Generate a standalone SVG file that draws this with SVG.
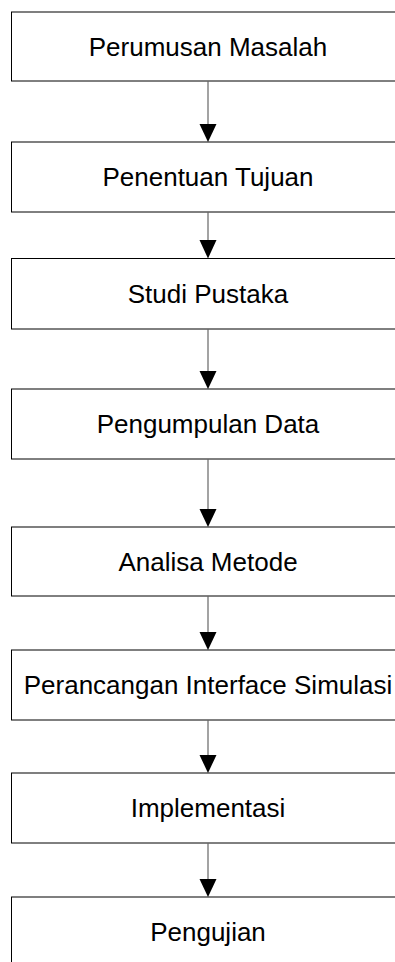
<svg xmlns="http://www.w3.org/2000/svg" width="395" height="962" viewBox="0 0 395 962">
<style>
.box{fill:#fff;stroke:#000;stroke-width:1}
.lbl{font-family:"Liberation Sans",Arial,sans-serif;font-size:26px;fill:#000;text-anchor:middle}
.conn{stroke:#666;stroke-width:1.2;fill:none}
.head{fill:#000}
</style>
<rect width="395" height="962" fill="#fff"/>
<g id="n1"><rect class="box" x="11.5" y="12" width="400" height="69"/><text class="lbl" x="208" y="55.5">Perumusan Masalah</text></g>
<g id="n2"><rect class="box" x="11.5" y="142" width="400" height="70"/><text class="lbl" x="208" y="186">Penentuan Tujuan</text></g>
<g id="n3"><rect class="box" x="11.5" y="258.5" width="400" height="70.5"/><text class="lbl" x="208" y="303">Studi Pustaka</text></g>
<g id="n4"><rect class="box" x="11.5" y="389" width="400" height="70"/><text class="lbl" x="208" y="433">Pengumpulan Data</text></g>
<g id="n5"><rect class="box" x="11.5" y="527" width="400" height="69"/><text class="lbl" x="208" y="570.5">Analisa Metode</text></g>
<g id="n6"><rect class="box" x="11.5" y="650" width="400" height="70"/><text class="lbl" x="208" y="694">Perancangan Interface Simulasi</text></g>
<g id="n7"><rect class="box" x="11.5" y="773" width="400" height="70"/><text class="lbl" x="208" y="817">Implementasi</text></g>
<g id="n8"><rect class="box" x="11.5" y="897" width="400" height="80"/><text class="lbl" x="208" y="941">Pengujian</text></g>
<g id="connectors">
<line class="conn" x1="208" y1="81" x2="208" y2="124"/><polygon class="head" points="199.5,124 216.5,124 208,142"/>
<line class="conn" x1="208" y1="212" x2="208" y2="240"/><polygon class="head" points="199.5,240 216.5,240 208,258.5"/>
<line class="conn" x1="208" y1="329" x2="208" y2="371"/><polygon class="head" points="199.5,371 216.5,371 208,389"/>
<line class="conn" x1="208" y1="459" x2="208" y2="509"/><polygon class="head" points="199.5,509 216.5,509 208,527"/>
<line class="conn" x1="208" y1="596" x2="208" y2="632"/><polygon class="head" points="199.5,632 216.5,632 208,650"/>
<line class="conn" x1="208" y1="720" x2="208" y2="755"/><polygon class="head" points="199.5,755 216.5,755 208,773"/>
<line class="conn" x1="208" y1="843" x2="208" y2="879"/><polygon class="head" points="199.5,879 216.5,879 208,897"/>
</g>
</svg>
